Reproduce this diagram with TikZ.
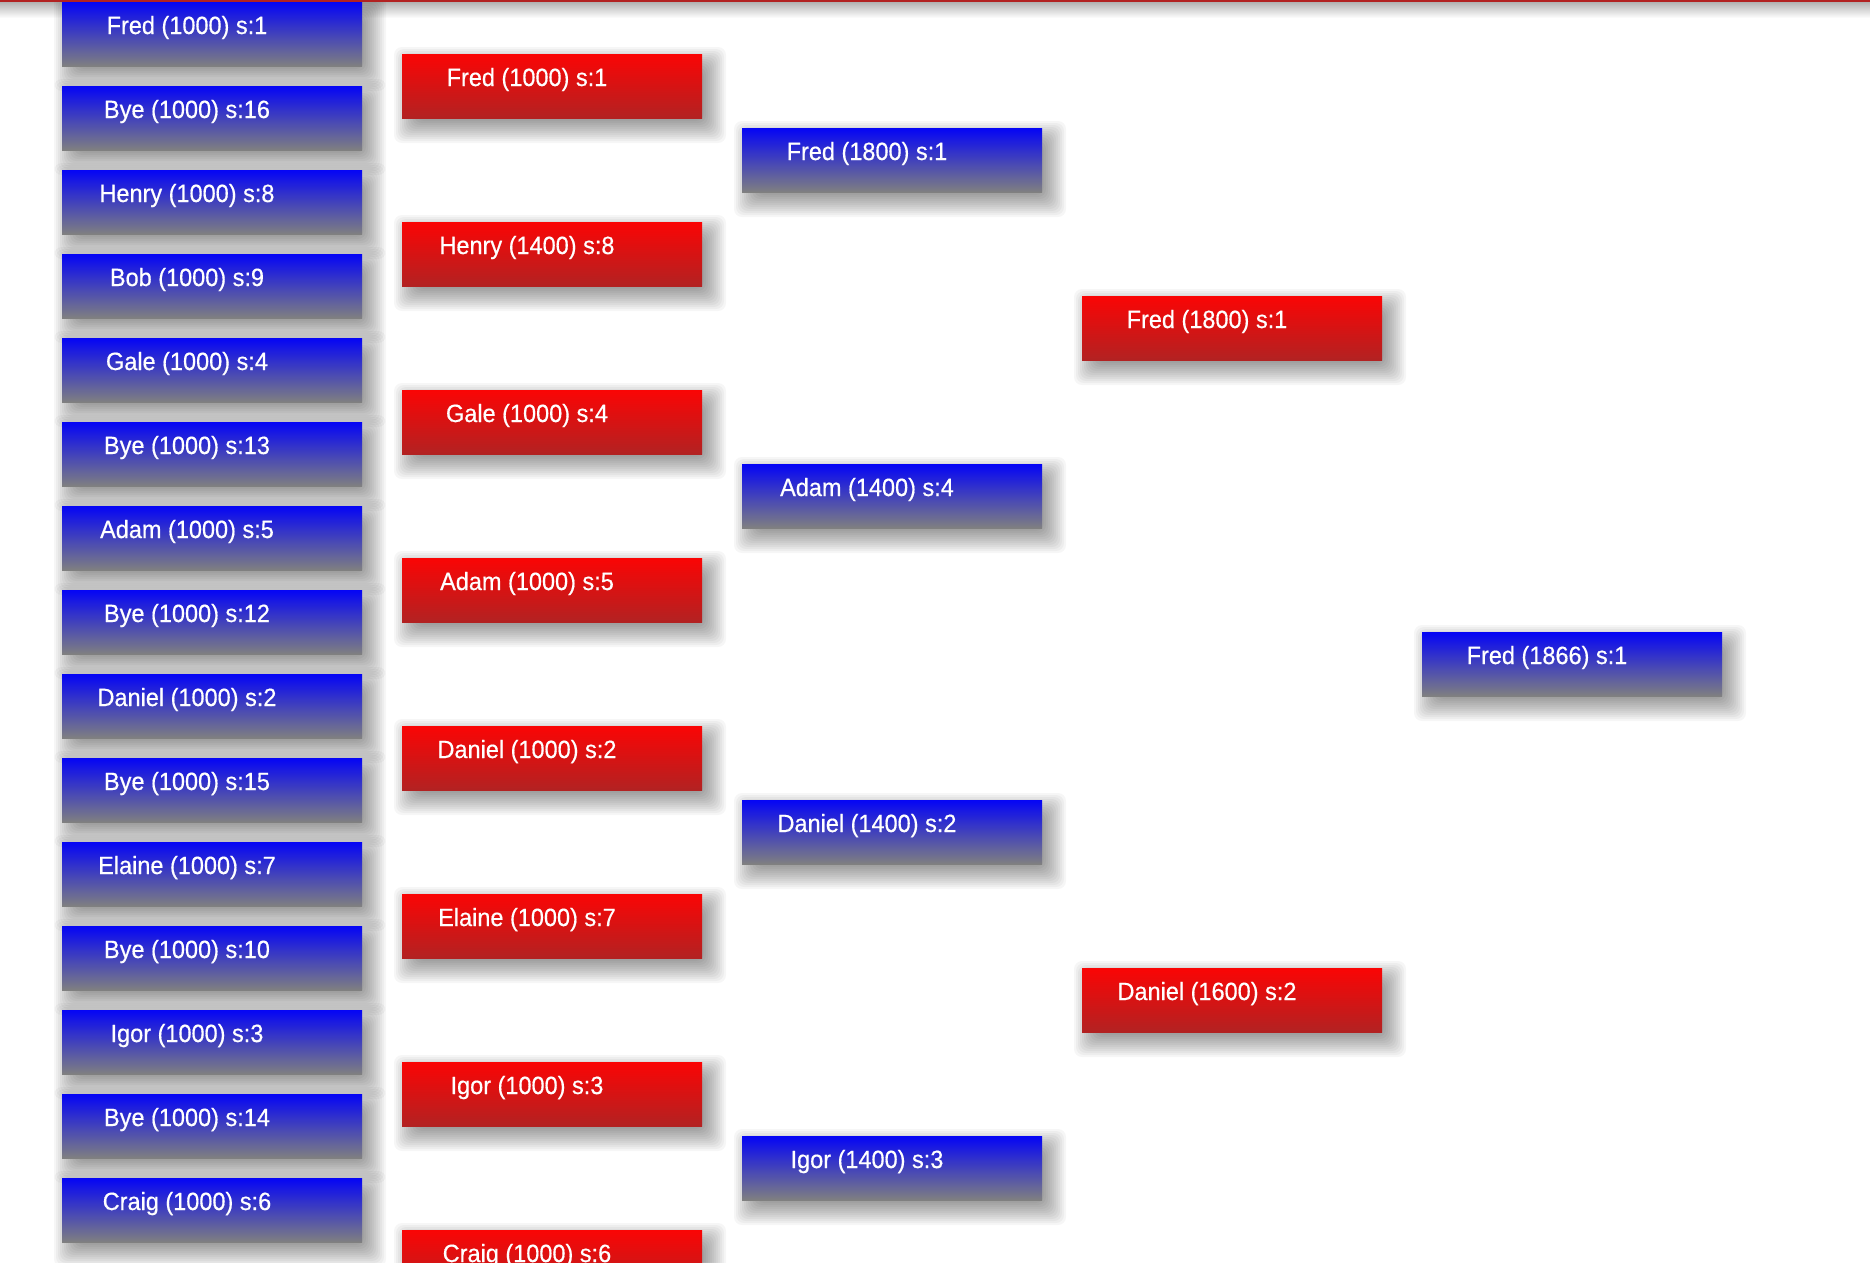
\documentclass[tikz,border=0pt]{standalone}
\usepackage{fontspec}
\setmainfont{Liberation Sans}[FakeStretch=0.94,FakeBold=0.5]
\definecolor{bluetop}{RGB}{5,5,245}
\definecolor{graybot}{RGB}{128,128,128}
\definecolor{redtop}{RGB}{250,5,5}
\definecolor{redbot}{RGB}{178,34,34}
\tikzset{
  box/.style={draw=none, minimum width=300pt, minimum height=64pt, inner sep=0pt, anchor=north west},
  bluebox/.style={box, top color=bluetop, bottom color=graybot},
  redbox/.style={box, top color=redtop, bottom color=redbot},
  shlayer/.style={fill=black, opacity=0.034, rounded corners=8pt},
  lbl/.style={text=white, anchor=base, inner sep=0pt, font=\fontsize{25}{30}\selectfont},
}
\newcommand\softshadow[2]{%
  \foreach \e in {-14,-12,...,16}{\path[shlayer] (#1+8-\e,#2+9-\e) rectangle (#1+308+\e,#2+73+\e);}}
\begin{document}
\begin{tikzpicture}[x=1pt,y=-1pt]
\fill[white] (0,0) rectangle (1870,1262);
\useasboundingbox (0,0) rectangle (1870,1262);
\clip (0,0) rectangle (1870,1262);
\shade[top color=black!30, bottom color=white] (0,2) rectangle (1870,18);
% column 1
\foreach \txt [count=\i from 0] in {Fred (1000) s:1, Bye (1000) s:16, Henry (1000) s:8, Bob (1000) s:9, Gale (1000) s:4, Bye (1000) s:13, Adam (1000) s:5, Bye (1000) s:12, Daniel (1000) s:2, Bye (1000) s:15, Elaine (1000) s:7, Bye (1000) s:10, Igor (1000) s:3, Bye (1000) s:14, Craig (1000) s:6}{
  \pgfmathsetmacro\yy{2+84*\i}
  \softshadow{62}{\yy}
  \node[bluebox] (a\i) at (62,\yy) {};
  \node[lbl] (a\i t) at (187,\yy+32) {\txt};
}
% column 2
\foreach \txt [count=\i from 0] in {Fred (1000) s:1, Henry (1400) s:8, Gale (1000) s:4, Adam (1000) s:5, Daniel (1000) s:2, Elaine (1000) s:7, Igor (1000) s:3, Craig (1000) s:6}{
  \pgfmathsetmacro\yy{54+168*\i}
  \softshadow{402}{\yy}
  \node[redbox] (b\i) at (402,\yy) {};
  \node[lbl] (b\i t) at (527,\yy+32) {\txt};
}
% column 3
\foreach \txt [count=\i from 0] in {Fred (1800) s:1, Adam (1400) s:4, Daniel (1400) s:2, Igor (1400) s:3}{
  \pgfmathsetmacro\yy{128+336*\i}
  \softshadow{742}{\yy}
  \node[bluebox] (c\i) at (742,\yy) {};
  \node[lbl] (c\i t) at (867,\yy+32) {\txt};
}
% column 4
\foreach \txt [count=\i from 0] in {Fred (1800) s:1, Daniel (1600) s:2}{
  \pgfmathsetmacro\yy{296+672*\i}
  \softshadow{1082}{\yy}
  \node[redbox] (d\i) at (1082,\yy) {};
  \node[lbl] (d\i t) at (1207,\yy+32) {\txt};
}
% column 5
\softshadow{1422}{632}
\node[bluebox] (e0) at (1422,632) {};
\node[lbl] (e0t) at (1547,664) {Fred (1866) s:1};
\fill[redbot] (0,0) rectangle (1870,2.3);
\end{tikzpicture}
\end{document}
